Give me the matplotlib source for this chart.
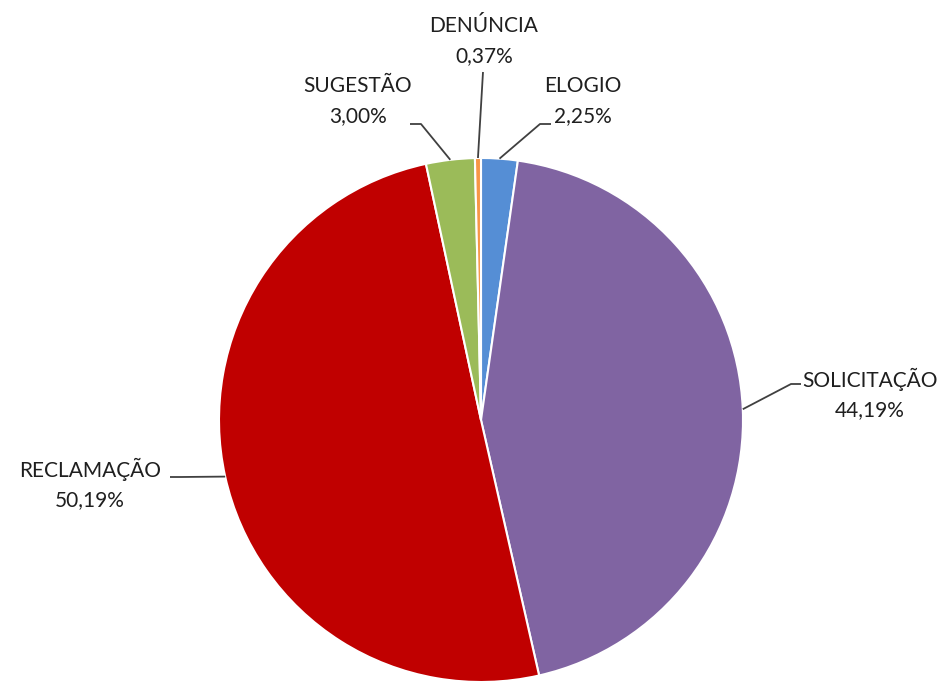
import numpy as np
import matplotlib
matplotlib.use("Agg")
from matplotlib import pyplot as plt

# --- data (clockwise from 12 o'clock) ---
categories = ['ELOGIO', 'SOLICITAÇÃO', 'RECLAMAÇÃO', 'SUGESTÃO', 'DENÚNCIA']
percentages = [2.25, 44.19, 50.19, 3.00, 0.37]
colors = ['#558ED5', '#8064A2', '#C00000', '#9BBB59', '#F79646']

# --- layout in pixel units (y measured from top of image) ---
W, H = 944, 688
cx, cy, radius = 481, 420, 262
# text centre, elbow of leader line, end of leader line
label_layout = {
    'ELOGIO':      dict(text=(583, 101), elbow=(540, 124), end=(551, 124)),
    'SOLICITAÇÃO': dict(text=(870, 394), elbow=(791, 384), end=(801, 384)),
    'RECLAMAÇÃO':  dict(text=(90, 484),  elbow=(181, 477), end=(170, 477)),
    'SUGESTÃO':    dict(text=(358, 101), elbow=(421, 124), end=(410, 124)),
    'DENÚNCIA':    dict(text=(484, 41),  elbow=(483, 72),  end=(483, 72)),
}

plt.rcParams['font.family'] = ['Lato', 'DejaVu Sans']

fig = plt.figure(figsize=(W / 100, H / 100), dpi=100)
ax = fig.add_axes([0, 0, 1, 1])

def fy(y):
    # flip top-based pixel y into axes y
    return H - y

wedges, _ = ax.pie(percentages, colors=colors, startangle=90, counterclock=False,
                   center=(cx, fy(cy)), radius=radius, frame=True,
                   wedgeprops=dict(edgecolor='white', linewidth=1.5))
ax.set_xlim(0, W)
ax.set_ylim(0, H)
ax.set_aspect('equal')
ax.axis('off')

for w, name, pct in zip(wedges, categories, percentages):
    mid = np.deg2rad((w.theta1 + w.theta2) / 2)
    px = cx + radius * np.cos(mid)
    py = fy(cy) + radius * np.sin(mid)
    lay = label_layout[name]
    ex, ey = lay['elbow']
    tx, ty = lay['end']
    ax.plot([px, ex, tx], [py, fy(ey), fy(ty)], color='#404040', lw=1.3,
            solid_capstyle='butt', zorder=3)
    label = f"{name}\n{pct:.2f}%".replace('.', ',')
    ax.text(lay['text'][0], fy(lay['text'][1]), label, ha='center', va='center',
            fontsize=15, color='#1f1f1f', linespacing=1.6)

fig.savefig('out.png', dpi=100)
